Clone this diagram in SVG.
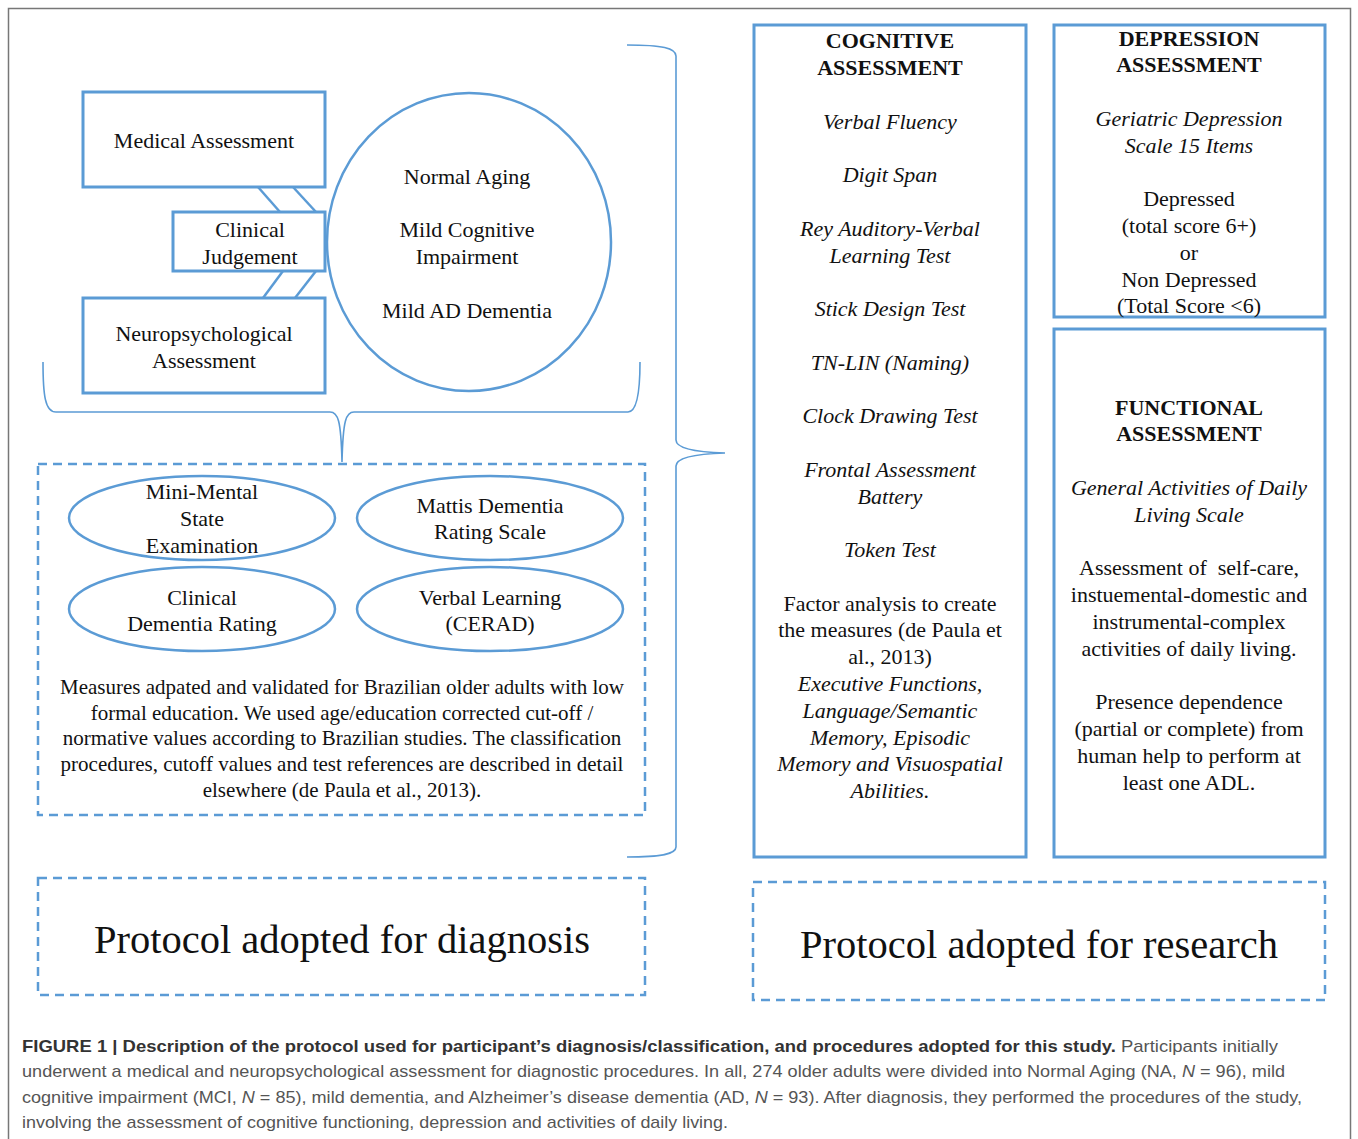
<svg xmlns="http://www.w3.org/2000/svg" width="1358" height="1139" viewBox="0 0 1358 1139">
<style>
.bx{fill:none;stroke:#5B9BD5;stroke-width:3}
.el{fill:none;stroke:#5B9BD5;stroke-width:2.5}
.ds{fill:none;stroke:#5B9BD5;stroke-width:2.5;stroke-dasharray:9 6}
.br{fill:none;stroke:#5B9BD5;stroke-width:1.6}
.ln{stroke:#5B9BD5;stroke-width:2.5}
text{font-family:"Liberation Serif","Times New Roman",serif;fill:#111;text-anchor:middle}
.t{font-size:22px}
.p{font-size:21px}
.i{font-size:22px;font-style:italic}
.b{font-size:22px;font-weight:bold}
.big{font-size:40.5px}
.cap{font-family:"Liberation Sans",Arial,sans-serif;font-size:17px;text-anchor:start;fill:#555}
.capb{font-weight:bold;fill:#333}
</style>
<rect width="1358" height="1139" fill="#fff"/>
<path d="M8.5,1139 V8.5 H1350.5 V1139" fill="none" stroke="#777" stroke-width="1.5"/>

<g id="connectors">
<line class="ln" x1="258" y1="187" x2="280" y2="212"/>
<line class="ln" x1="293" y1="187" x2="316" y2="212"/>
<line class="ln" x1="283" y1="271" x2="263" y2="298"/>
<line class="ln" x1="316" y1="271" x2="295" y2="298"/>
<path class="br" d="M43,362 C43,395 45,412 56,412 L330,412 C338,412 341,420 342,462 C343,420 346,412 354,412 L628,412 C636,412 640,395 640,362"/>
<path class="br" d="M627,45 C662,45 676,48 676,56 L676,440 C676,448 692,452 725,453 C692,454 676,458 676,466 L676,847 C676,854 662,857 627,857"/>
</g>

<g id="medical">
<rect class="bx" x="83" y="92" width="242" height="95"/>
<text class="t" x="204" y="148">Medical Assessment</text>
</g>
<g id="clinical">
<rect class="bx" x="173" y="212" width="152" height="59"/>
<text class="t" x="250" y="237">Clinical</text>
<text class="t" x="250" y="264">Judgement</text>
</g>
<g id="neuro">
<rect class="bx" x="83" y="298" width="242" height="95"/>
<text class="t" x="204" y="341">Neuropsychological</text>
<text class="t" x="204" y="368">Assessment</text>
</g>
<g id="outcomes">
<ellipse class="el" cx="469" cy="242" rx="142" ry="149"/>
<text class="t" x="467" y="184">Normal Aging</text>
<text class="t" x="467" y="237">Mild Cognitive</text>
<text class="t" x="467" y="264">Impairment</text>
<text class="t" x="467" y="318">Mild AD Dementia</text>
</g>

<g id="diagnosis-tests">
<rect class="ds" x="38" y="464" width="607" height="351"/>
<g id="mmse">
<ellipse class="el" cx="202" cy="518" rx="133" ry="42"/>
<text class="t" x="202" y="499">Mini-Mental</text>
<text class="t" x="202" y="526">State</text>
<text class="t" x="202" y="553">Examination</text>
</g>
<g id="mattis">
<ellipse class="el" cx="490" cy="518" rx="133" ry="42"/>
<text class="t" x="490" y="513">Mattis Dementia</text>
<text class="t" x="490" y="539">Rating Scale</text>
</g>
<g id="cdr">
<ellipse class="el" cx="202" cy="609" rx="133" ry="42"/>
<text class="t" x="202" y="605">Clinical</text>
<text class="t" x="202" y="631">Dementia Rating</text>
</g>
<g id="cerad">
<ellipse class="el" cx="490" cy="609" rx="133" ry="42"/>
<text class="t" x="490" y="605">Verbal Learning</text>
<text class="t" x="490" y="631">(CERAD)</text>
</g>
<g id="measures-note">
<text class="p" x="342" y="694">Measures adpated and validated for Brazilian older adults with low</text>
<text class="p" x="342" y="720">formal education. We used age/education corrected cut-off /</text>
<text class="p" x="342" y="745">normative values according to Brazilian studies. The classification</text>
<text class="p" x="342" y="771">procedures, cutoff values and test references are described in detail</text>
<text class="p" x="342" y="797">elsewhere (de Paula et al., 2013).</text>
</g>
</g>

<g id="cognitive">
<rect class="bx" x="754" y="25" width="272" height="832"/>
<text class="b" x="890" y="48">COGNITIVE</text>
<text class="b" x="890" y="75">ASSESSMENT</text>
<text class="i" x="890" y="129">Verbal Fluency</text>
<text class="i" x="890" y="182">Digit Span</text>
<text class="i" x="890" y="236">Rey Auditory-Verbal</text>
<text class="i" x="890" y="263">Learning Test</text>
<text class="i" x="890" y="316">Stick Design Test</text>
<text class="i" x="890" y="370">TN-LIN (Naming)</text>
<text class="i" x="890" y="423">Clock Drawing Test</text>
<text class="i" x="890" y="477">Frontal Assessment</text>
<text class="i" x="890" y="504">Battery</text>
<text class="i" x="890" y="557">Token Test</text>
<text class="t" x="890" y="611">Factor analysis to create</text>
<text class="t" x="890" y="637">the measures (de Paula et</text>
<text class="t" x="890" y="664">al., 2013)</text>
<text class="i" x="890" y="691">Executive Functions,</text>
<text class="i" x="890" y="718">Language/Semantic</text>
<text class="i" x="890" y="745">Memory, Episodic</text>
<text class="i" x="890" y="771">Memory and Visuospatial</text>
<text class="i" x="890" y="798">Abilities.</text>
</g>

<g id="depression">
<rect class="bx" x="1054" y="25" width="271" height="292"/>
<text class="b" x="1189" y="46">DEPRESSION</text>
<text class="b" x="1189" y="72">ASSESSMENT</text>
<text class="i" x="1189" y="126">Geriatric Depression</text>
<text class="i" x="1189" y="153">Scale 15 Items</text>
<text class="t" x="1189" y="206">Depressed</text>
<text class="t" x="1189" y="233">(total score 6+)</text>
<text class="t" x="1189" y="260">or</text>
<text class="t" x="1189" y="287">Non Depressed</text>
<text class="t" x="1189" y="313">(Total Score &lt;6)</text>
</g>

<g id="functional">
<rect class="bx" x="1054" y="329" width="271" height="528"/>
<text class="b" x="1189" y="415">FUNCTIONAL</text>
<text class="b" x="1189" y="441">ASSESSMENT</text>
<text class="i" x="1189" y="495">General Activities of Daily</text>
<text class="i" x="1189" y="522">Living Scale</text>
<text class="t" x="1189" y="575" xml:space="preserve">Assessment of  self-care,</text>
<text class="t" x="1189" y="602">instuemental-domestic and</text>
<text class="t" x="1189" y="629">instrumental-complex</text>
<text class="t" x="1189" y="656">activities of daily living.</text>
<text class="t" x="1189" y="709">Presence dependence</text>
<text class="t" x="1189" y="736">(partial or complete) from</text>
<text class="t" x="1189" y="763">human help to perform at</text>
<text class="t" x="1189" y="790">least one ADL.</text>
</g>

<g id="diagnosis-label">
<rect class="ds" x="38" y="878" width="607" height="117"/>
<text class="big" x="342" y="953">Protocol adopted for diagnosis</text>
</g>
<g id="research-label">
<rect class="ds" x="753" y="882" width="572" height="118"/>
<text class="big" x="1039" y="958">Protocol adopted for research</text>
</g>

<g id="caption">
<text class="cap" x="22" y="1052" textLength="1256" lengthAdjust="spacingAndGlyphs"><tspan class="capb">FIGURE 1 | Description of the protocol used for participant’s diagnosis/classification, and procedures adopted for this study.</tspan> Participants initially</text>
<text class="cap" x="22" y="1077" textLength="1263" lengthAdjust="spacingAndGlyphs">underwent a medical and neuropsychological assessment for diagnostic procedures. In all, 274 older adults were divided into Normal Aging (NA, <tspan font-style="italic">N</tspan> = 96), mild</text>
<text class="cap" x="22" y="1103" textLength="1280" lengthAdjust="spacingAndGlyphs">cognitive impairment (MCI, <tspan font-style="italic">N</tspan> = 85), mild dementia, and Alzheimer’s disease dementia (AD, <tspan font-style="italic">N</tspan> = 93). After diagnosis, they performed the procedures of the study,</text>
<text class="cap" x="22" y="1128" textLength="706" lengthAdjust="spacingAndGlyphs">involving the assessment of cognitive functioning, depression and activities of daily living.</text>
</g>
</svg>
